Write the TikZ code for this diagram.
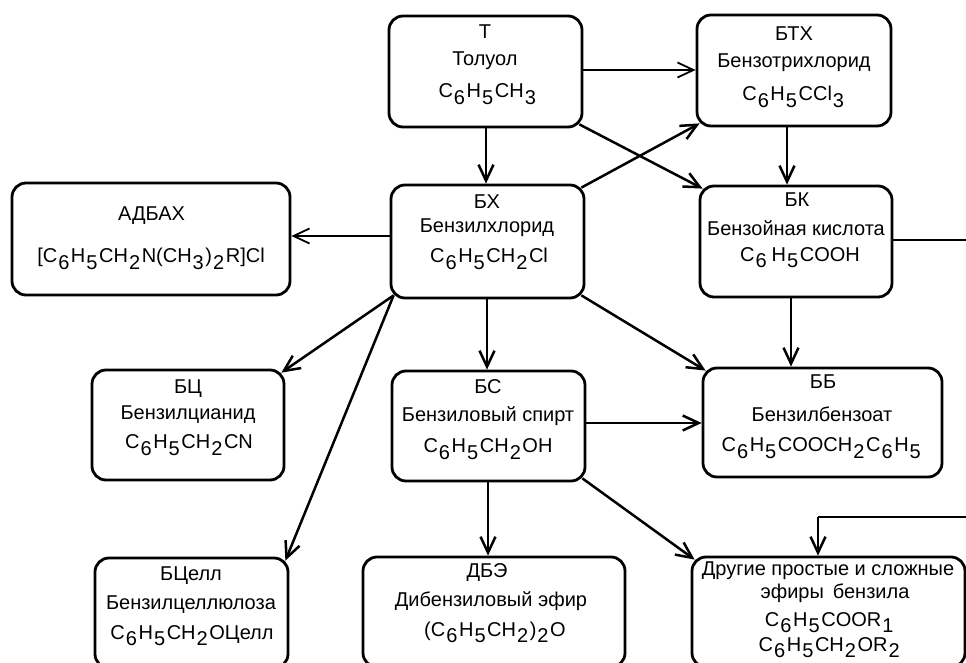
\documentclass[tikz,border=0pt]{standalone}
\usepackage{fontspec}
\setmainfont{Liberation Sans}
\usetikzlibrary{arrows.meta,calc}
\newcommand\sbs[1]{\kern1pt\raisebox{-6.5pt}{#1}\kern1.6pt}
\begin{document}
\begin{tikzpicture}[x=1pt,y=-1pt,
  box/.style={draw, line width=2.8pt, rounded corners=14pt, inner sep=0pt},
  txt/.style={anchor=base, inner sep=0pt, font=\fontsize{20}{24}\selectfont},
  conn/.style={line width=2.5pt, -{Straight Barb[length=16pt,width=15pt]}},
  thinconn/.style={line width=1.8pt, -{Straight Barb[length=16pt,width=15pt]}},
]
\useasboundingbox (0,0) rectangle (966,663);
\clip (0,0) rectangle (966,663);

% boxes
\node[box, minimum width=193pt, minimum height=111pt] (T)   at (485.5,71.5) {};
\node[box, minimum width=194pt, minimum height=111pt] (BTX) at (794,70.5) {};
\node[box, minimum width=193pt, minimum height=113pt] (BX)  at (487.5,241.5) {};
\node[box, minimum width=192pt, minimum height=111pt] (BK)  at (796,241.5) {};
\node[box, minimum width=278pt, minimum height=112pt] (AD)  at (151,239) {};
\node[box, minimum width=192pt, minimum height=110pt] (BC)  at (188,425) {};
\node[box, minimum width=193pt, minimum height=110pt] (BS)  at (488.5,426) {};
\node[box, minimum width=239pt, minimum height=109pt] (BB)  at (822.5,422.5) {};
\node[box, minimum width=193pt, minimum height=110pt] (BCL) at (191.5,613) {};
\node[box, minimum width=262pt, minimum height=110pt] (DBE) at (494,612) {};
\node[box, minimum width=273pt, minimum height=110pt] (OT)  at (828.5,612) {};

% texts
\node[txt] (T1) at (485,39) {Т};
\node[txt] (T2) at (485,65.5) {Толуол};
\node[txt] (T3) at (488,98) {C\sbs{6}H\sbs{5}CH\sbs{3}};

\node[txt] (BTX1) at (794,41) {БТХ};
\node[txt] (BTX2) at (794,67.7) {Бензотрихлорид};
\node[txt] (BTX3) at (794,100.7) {C\sbs{6}H\sbs{5}CCl\sbs{3}};

\node[txt] (BX1) at (487,208.5) {БХ};
\node[txt] (BX2) at (487,232.3) {Бензилхлорид};
\node[txt] (BX3) at (489,262.7) {C\sbs{6}H\sbs{5}CH\sbs{2}Cl};

\node[txt] (BK1) at (797,207) {БК};
\node[txt] (BK2) at (796,235) {Бензойная кислота};
\node[txt] (BK3) at (800,261) {C\sbs{6}\,H\sbs{5}COOH};

\node[txt] (AD1) at (151.5,220) {АДБАХ};
\node[txt] (AD2) at (151,262.7) {[C\sbs{6}H\sbs{5}CH\sbs{2}N(CH\sbs{3})\sbs{2}R]Cl};

\node[txt] (BC1) at (188,393.5) {БЦ};
\node[txt] (BC2) at (188,419.3) {Бензилцианид};
\node[txt] (BC3) at (189,448.7) {C\sbs{6}H\sbs{5}CH\sbs{2}CN};

\node[txt] (BS1) at (488,393.5) {БС};
\node[txt] (BS2) at (488,421.8) {Бензиловый спирт};
\node[txt] (BS3) at (488,452.7) {C\sbs{6}H\sbs{5}CH\sbs{2}OH};

\node[txt] (BB1) at (823,388.5) {ББ};
\node[txt] (BB2) at (822,421) {Бензилбензоат};
\node[txt] (BB3) at (822,451.7) {C\sbs{6}H\sbs{5}COOCH\sbs{2}C\sbs{6}H\sbs{5}};

\node[txt] (BCL1) at (191,580) {БЦелл};
\node[txt] (BCL2) at (191,609) {Бензилцеллюлоза};
\node[txt] (BCL3) at (192,639) {C\sbs{6}H\sbs{5}CH\sbs{2}OЦелл};

\node[txt] (DBE1) at (487,577) {ДБЭ};
\node[txt] (DBE2) at (491,606) {Дибензиловый эфир};
\node[txt] (DBE3) at (495,636) {(C\sbs{6}H\sbs{5}CH\sbs{2})\sbs{2}O};

\node[txt] (OT1) at (828,575) {Другие простые и сложные};
\node[txt] (OT2) at (835,598.5) {эфиры\, бензила};
\node[txt] (OT3) at (830,626.3) {C\sbs{6}H\sbs{5}COOR\sbs{1}};
\node[txt] (OT4) at (830,651) {C\sbs{6}H\sbs{5}CH\sbs{2}OR\sbs{2}};

% connectors
\draw[thinconn] (T.east |- 0,70) -- (BTX.west |- 0,70);
\draw[conn] (T.south -| 486,0) -- (BX.north -| 486,0);
\draw[conn] ($(T.south east)+(-4,-4)$) -- ($(BK.north west)+(4,4)$);
\draw[conn] ($(BX.north east)+(-4,4)$) -- ($(BTX.south west)+(4,-4)$);
\draw[conn] (BTX.south -| 787,0) -- (BK.north -| 787,0);
\draw[line width=2.2pt] (BK.east |- 0,240) -- (990,240) -- (990,517) coordinate (R) -- (818,517) coordinate (RC);
\draw[conn] (RC) -- (OT.north -| RC);
\draw[thinconn] (BX.west |- 0,236) -- (AD.east |- 0,236);
\draw[conn] (BX.south -| 487,0) -- (BS.north -| 487,0);
\draw[conn] ($(BX.south east)+(-4,-4)$) -- ($(BB.north west)+(4,4)$);
\draw[conn] ($(BX.south west)+(4,-4)$) -- ($(BC.north east)+(-4,4)$);
\draw[conn] ($(BX.south west)+(4,-4)$) -- ($(BCL.north east)+(-4,4)$);
\draw[conn] (BK.south -| 791,0) -- (BB.north -| 791,0);
\draw[conn] (BS.east |- 0,423) -- (BB.west |- 0,423);
\draw[conn] (BS.south -| 488,0) -- (DBE.north -| 488,0);
\draw[conn] ($(BS.south east)+(-4,-4)$) -- ($(OT.north west)+(4,4)$);
\end{tikzpicture}
\end{document}
